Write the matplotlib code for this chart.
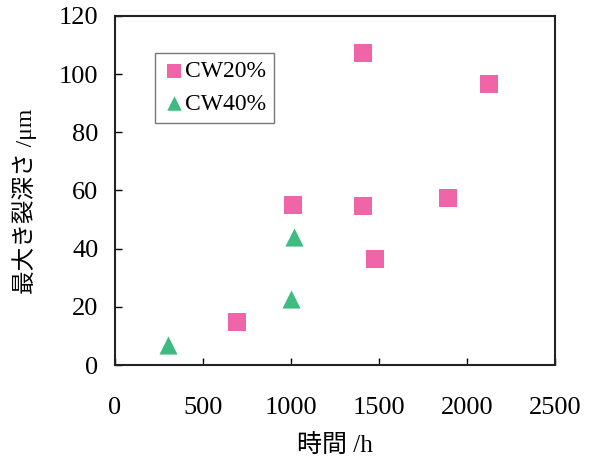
import matplotlib
matplotlib.use('Agg')
import matplotlib.pyplot as plt

plt.rcParams['font.family'] = ['Liberation Serif', 'Noto Sans CJK JP']

# CW20% データ
cw20_time = [693, 1011, 1409, 1409, 1477, 1892, 2125]
cw20_depth = [14.8, 55.0, 107.3, 54.7, 36.5, 57.4, 96.6]

# CW40% データ
cw40_time = [301, 1000, 1017]
cw40_depth = [6.9, 22.7, 44.0]

x_ticks = [0, 500, 1000, 1500, 2000, 2500]
y_ticks = [0, 20, 40, 60, 80, 100, 120]

fig = plt.figure(figsize=(5.91, 4.61), dpi=100)
ax = fig.add_axes([115 / 591, 1 - 365 / 461, 440 / 591, 349 / 461])

ax.scatter(cw20_time, cw20_depth, marker='s', s=150, color='#f064a8',
           linewidths=0, label='CW20%', zorder=3)
ax.scatter(cw40_time, cw40_depth, marker='^', s=170, color='#3dbb80',
           linewidths=0, label='CW40%', zorder=3)

ax.set_xlim(0, 2500)
ax.set_ylim(0, 120)
ax.set_xticks(x_ticks)
ax.set_yticks(y_ticks)
ax.tick_params(axis='x', direction='in', length=5, width=1, pad=23, labelsize=19)
ax.tick_params(axis='y', direction='in', length=5, width=1, pad=12, labelsize=19)
for s in ax.spines.values():
    s.set_linewidth(1.5)
    s.set_color('#222222')

ax.set_xlabel('時間 /h', fontsize=18, labelpad=11)
ax.set_ylabel('最大き裂深さ /μm', fontsize=17)
ax.yaxis.set_label_coords(-0.178, 0.47)

leg = ax.legend(loc='upper left', bbox_to_anchor=(0.091, 0.895), fontsize=17,
                frameon=True, fancybox=False, handletextpad=0.0,
                borderpad=0.35, labelspacing=0.45, handlelength=0.9,
                borderaxespad=0, markerscale=0.8)
leg.get_frame().set_edgecolor('#555555')
leg.get_frame().set_linewidth(1)

fig.savefig('out.png', dpi=100)
